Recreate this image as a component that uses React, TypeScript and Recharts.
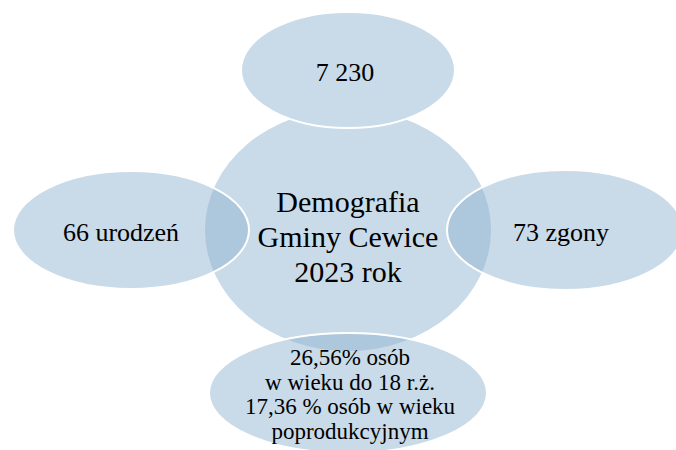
import React from 'react';
import { ScatterChart, Scatter, XAxis, YAxis } from 'recharts';

// text of each node, one entry per line
const centerLines = ['Demografia', 'Gminy Cewice', '2023 rok'];
const populationLines = ['7 230'];
const deathLines = ['73 zgony'];
const ageLines = ['26,56% osób', 'w wieku do 18 r.ż.', '17,36 % osób w wieku', 'poprodukcyjnym'];
const birthLines = ['66 urodzeń'];

const nodeLabels = [centerLines, populationLines, deathLines, ageLines, birthLines];

// radial layout: hub in the middle, satellites placed by angle and distance
const WIDTH = 676;
const HEIGHT = 450;
const HUB = { x: 348, y: 230 };
const SERIF = 'Times New Roman, Liberation Serif, serif';
const SEMI = { fill: '#8eb2cf', fillOpacity: 0.48, stroke: '#ffffff' };
const SOLID = { fill: '#c9dae8', fillOpacity: 1, stroke: '#ffffff' };

const layout = [
  { angle: 0, dist: 0, rx: 143, ry: 121, fontSize: 30, lineHeight: 35, dx: 0, dy: 6, ...SOLID, stroke: 'none' },
  { angle: 90, dist: 160, rx: 107, ry: 58, fontSize: 26, lineHeight: 28, dx: -3, dy: 2, ...SOLID },
  { angle: 0, dist: 217, rx: 118, ry: 60, fontSize: 26, lineHeight: 28, dx: -4, dy: 2, ...SEMI },
  { angle: 270, dist: 163, rx: 139, ry: 60, fontSize: 23, lineHeight: 24.5, dx: 2, dy: 1, ...SEMI },
  { angle: 180, dist: 217, rx: 118, ry: 59, fontSize: 26, lineHeight: 28, dx: -10, dy: 2, ...SEMI },
];

const nodes = nodeLabels.map((lines, i) => {
  const l = layout[i];
  const rad = (l.angle * Math.PI) / 180;
  return {
    x: HUB.x + l.dist * Math.cos(rad),
    y: HUB.y - l.dist * Math.sin(rad),
    lines,
    idx: i,
  };
});

const NodeShape = (props: any) => {
  const { cx, cy, payload } = props;
  if (cx == null || cy == null) return null;
  const l = layout[payload.idx];
  const lines: string[] = payload.lines;
  const firstY = cy + l.dy - ((lines.length - 1) * l.lineHeight) / 2;
  return (
    <g>
      <ellipse
        cx={cx}
        cy={cy}
        rx={l.rx}
        ry={l.ry}
        fill={l.fill}
        fillOpacity={l.fillOpacity}
        stroke={l.stroke}
        strokeWidth={2}
      />
      <text
        x={cx + l.dx}
        textAnchor="middle"
        dominantBaseline="central"
        style={{ fontFamily: SERIF, fontSize: l.fontSize }}
        fill="#000000"
      >
        {lines.map((line, j) => (
          <tspan key={j} x={cx + l.dx} y={firstY + j * l.lineHeight}>
            {line}
          </tspan>
        ))}
      </text>
    </g>
  );
};

export default function App() {
  return (
    <div style={{ position: 'absolute', left: 0, top: 0, width: WIDTH, height: HEIGHT, background: '#ffffff', fontFamily: SERIF }}>
      <ScatterChart width={WIDTH} height={HEIGHT} margin={{ top: 0, right: 0, bottom: 0, left: 0 }}>
        <XAxis type="number" dataKey="x" domain={[0, WIDTH]} hide />
        <YAxis type="number" dataKey="y" domain={[0, HEIGHT]} reversed hide />
        <Scatter data={nodes} shape={NodeShape} isAnimationActive={false} />
      </ScatterChart>
    </div>
  );
}
